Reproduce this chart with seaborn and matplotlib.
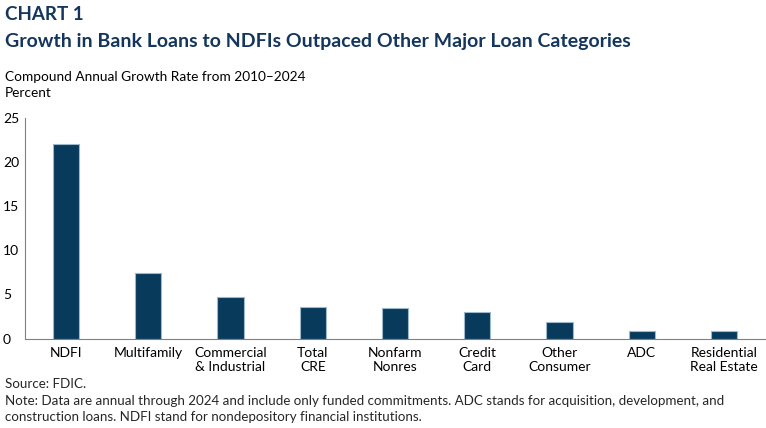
import matplotlib
matplotlib.use("Agg")
import matplotlib.pyplot as plt
import seaborn as sns
import pandas as pd

categories = ["NDFI", "Multifamily", "Commercial\n& Industrial", "Total\nCRE", "Nonfarm\nNonres",
              "Credit\nCard", "Other\nConsumer", "ADC", "Residential\nReal Estate"]
growth = [22.0, 7.4, 4.7, 3.6, 3.5, 3.0, 1.9, 0.9, 0.8]
y_ticks = [0, 5, 10, 15, 20, 25]

df = pd.DataFrame({"category": categories, "growth": growth})

sns.set_style("white")
plt.rcParams["font.family"] = ["Lato", "DejaVu Sans"]

navy = "#083A5C"
title_color = "#14365D"

fig = plt.figure(figsize=(7.66, 4.28), dpi=100)
ax = fig.add_axes([25 / 766, 89.5 / 428, 740 / 766, 220.5 / 428])

sns.barplot(data=df, x="category", y="growth", color=navy, width=0.32,
            edgecolor="#9DB8CC", linewidth=0.8, saturation=1, ax=ax)

ax.set_ylim(0, 25)
ax.set_xlim(-0.5, len(categories) - 0.5)
ax.set_yticks(y_ticks)
ax.set_yticklabels([str(t) for t in y_ticks])
ax.set_xlabel("")
ax.set_ylabel("")
for side in ["top", "right"]:
    ax.spines[side].set_visible(False)
ax.spines["left"].set_color("#808080")
ax.spines["bottom"].set_color("#808080")
ax.tick_params(axis="both", length=0, labelsize=10, colors="black")
ax.tick_params(axis="x", pad=6)
ax.yaxis.set_tick_params(pad=0)
for lbl in ax.get_yticklabels():
    lbl.set_horizontalalignment("left")
    lbl.set_x(-22 / 740)
    lbl.set_transform(ax.get_yaxis_transform())

fig.text(5 / 766, 1 - 14 / 428, "CHART 1", fontsize=13.5, fontweight="bold",
         color=title_color, va="center")
fig.text(5 / 766, 1 - 42 / 428, "Growth in Bank Loans to NDFIs Outpaced Other Major Loan Categories",
         fontsize=14, fontweight="bold", color=title_color, va="center")
fig.text(5 / 766, 1 - 77 / 428, "Compound Annual Growth Rate from 2010\u20132024",
         fontsize=9.8, color="black", va="center")
fig.text(5 / 766, 1 - 93 / 428, "Percent", fontsize=9.8, color="black", va="center")

fig.text(5 / 766, 1 - 384 / 428, "Source: FDIC.", fontsize=9.6, va="center")
fig.text(5 / 766, 1 - 401 / 428,
         "Note: Data are annual through 2024 and include only funded commitments. ADC stands for acquisition, development, and",
         fontsize=9.6, va="center")
fig.text(5 / 766, 1 - 417 / 428,
         "construction loans. NDFI stand for nondepository financial institutions.",
         fontsize=9.6, va="center")

fig.savefig("out.png", dpi=100, facecolor="white")
